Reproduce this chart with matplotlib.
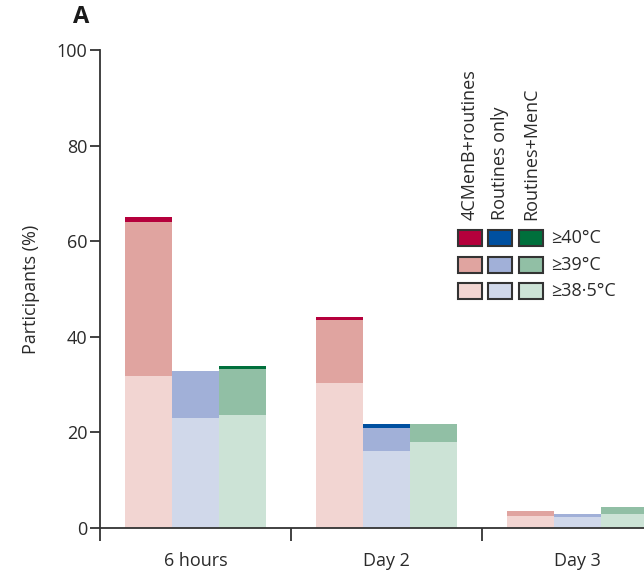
import matplotlib
matplotlib.use("Agg")
import matplotlib.pyplot as plt
from matplotlib.patches import Rectangle
import numpy as np

plt.rcParams['font.family'] = ['Open Sans', 'DejaVu Sans']

timepoints = ["6 hours", "Day 2", "Day 3"]
groups = ["4CMenB+routines", "Routines only", "Routines+MenC"]
thresholds = ["≥40°C", "≥39°C", "≥38·5°C"]

# segment heights (% participants): light (≥38.5), medium (≥39), dark (≥40) stacked
light = {
    "4CMenB+routines": [31.8, 30.3, 2.6],
    "Routines only":   [23.1, 16.1, 2.3],
    "Routines+MenC":   [23.6, 17.9, 2.9],
}
medium_top = {
    "4CMenB+routines": [64.0, 43.5, 3.5],
    "Routines only":   [32.8, 21.0, 2.9],
    "Routines+MenC":   [33.3, 21.8, 4.4],
}
dark_top = {
    "4CMenB+routines": [65.1, 44.1, 3.5],
    "Routines only":   [32.8, 21.8, 2.9],
    "Routines+MenC":   [33.9, 21.8, 4.4],
}

colors = {
    "4CMenB+routines": ["#b5003c", "#e0a4a0", "#f2d5d2"],
    "Routines only":   ["#0050a0", "#a1b0d8", "#d0d8ea"],
    "Routines+MenC":   ["#00703c", "#91bfa5", "#cce3d6"],
}

fs = 13
tc = '#2a2a2a'

fig = plt.figure(figsize=(6.44, 5.73), dpi=100)
ax = fig.add_axes([100/644, 1-528/573, 544/644, 478/573])

w = 0.246
centers = np.arange(len(timepoints)) + 0.5
for j, g in enumerate(groups):
    x = centers + (j - 1) * w
    lt = np.array(light[g]); mt = np.array(medium_top[g]); dt = np.array(dark_top[g])
    cd, cm, cl = colors[g]
    ax.bar(x, lt, width=w, color=cl, linewidth=0)
    ax.bar(x, mt - lt, bottom=lt, width=w, color=cm, linewidth=0)
    ax.bar(x, dt - mt, bottom=mt, width=w, color=cd, linewidth=0)

ax.set_xlim(0, 544/191)
ax.set_ylim(0, 100)
ax.set_yticks([0, 20, 40, 60, 80, 100])
ax.set_xticks([0, 1, 2])
ax.set_xticklabels([])
ax.set_xticks(centers, minor=True)
ax.set_xticklabels(timepoints, minor=True)
ax.tick_params(axis='x', which='minor', length=0, pad=17, labelsize=fs, colors=tc)
ax.tick_params(axis='x', which='major', length=9, width=1.3, color='#333333')
ax.tick_params(axis='y', length=7, width=1.3, color='#333333', labelsize=fs, labelcolor=tc, pad=2)
for s in ['top', 'right']:
    ax.spines[s].set_visible(False)
for s in ['left', 'bottom']:
    ax.spines[s].set_linewidth(1.3)
    ax.spines[s].set_color('#333333')
ax.set_ylabel("Participants (%)", fontsize=fs, color=tc, labelpad=12)

fig.text(81/644, 1-17/573, "A", fontsize=17, fontweight='bold', color='#1a1a1a', ha='center', va='center')

# legend drawn manually
col_x = [458, 488, 519]
row_y = [230, 257, 283]
sw, sh = 24, 16
for j, g in enumerate(groups):
    for i in range(3):
        fig.patches.append(Rectangle((col_x[j]/644, 1-(row_y[i]+sh)/573), sw/644, sh/573,
                                     transform=fig.transFigure, facecolor=colors[g][i],
                                     edgecolor='#333333', linewidth=1.5))
    fig.text((col_x[j]+sw/2)/644, 1-220/573, g, rotation=90, ha='center', va='bottom',
             fontsize=fs, color=tc)
for i, t in enumerate(thresholds):
    fig.text(551/644, 1-(row_y[i]+sh/2)/573, t, ha='left', va='center', fontsize=fs, color=tc)

fig.savefig("out.png", dpi=100)
